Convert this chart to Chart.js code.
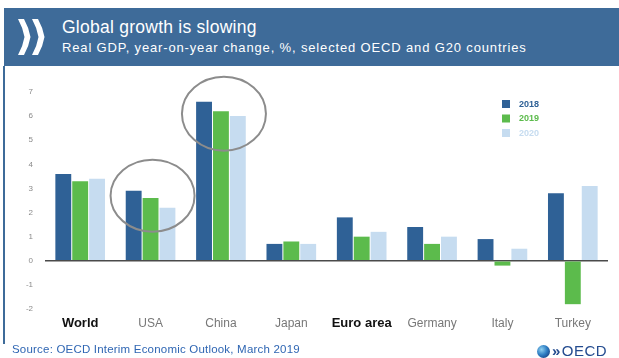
<!DOCTYPE html>
<html>
<head>
<meta charset="utf-8">
<script src="https://cdn.jsdelivr.net/npm/chart.js@4/dist/chart.umd.min.js"></script>
<style>
  html, body { margin: 0; padding: 0; background: #ffffff; }
  body { width: 619px; height: 358px; position: relative; overflow: hidden;
         font-family: "Liberation Sans", Arial, sans-serif; }
  #band { position: absolute; left: 4px; top: 8px; width: 615px; height: 58px; background: #3e6b99; }
  #band svg { position: absolute; left: 13px; top: 11px; }
  #title { position: absolute; left: 62px; top: 17px; color: #ffffff; font-size: 17.5px; letter-spacing: 0.25px; white-space: nowrap; }
  #subtitle { position: absolute; left: 62px; top: 40px; color: #ffffff; font-size: 13px; letter-spacing: 0.85px; white-space: nowrap; }
  #rule { position: absolute; left: 3px; top: 66px; width: 2px; height: 278px; background: #3e6b99; }
  #plot { position: absolute; left: 0; top: 0; }
  #source { position: absolute; left: 12px; top: 343px; color: #2f66b3; font-size: 11.5px; letter-spacing: 0.2px; white-space: nowrap; }
  #logo { position: absolute; left: 537px; top: 344px; height: 14px; white-space: nowrap; }
  #globe { position: absolute; left: 0; top: 1px; width: 13px; height: 13px; border-radius: 50%;
           background: radial-gradient(circle at 35% 35%, #8fd0f0 0%, #2f7fc4 45%, #1d4f93 75%, #4aa84a 100%); }
  #logotext { position: absolute; left: 15px; top: -2px; color: #234b8f; font-size: 15px; letter-spacing: 0.5px; }
  #logotext b { font-weight: bold; margin-right: 1px; }
</style>
</head>
<body>
<div id="band">
  <svg width="32" height="36" viewBox="0 0 32 36">
    <path d="M1 0 L7 0 Q12 9 13.5 18 Q12 27 7 36 L1 36 Q6 27 7.5 18 Q6 9 1 0 Z" fill="#ffffff"/>
    <path d="M15 0 L21 0 Q26 9 27.5 18 Q26 27 21 36 L15 36 Q20 27 21.5 18 Q20 9 15 0 Z" fill="#ffffff"/>
  </svg>
</div>
<div id="title">Global growth is slowing</div>
<div id="subtitle">Real GDP, year-on-year change, %, selected OECD and G20 countries</div>
<div id="rule"></div>
<canvas id="plot" width="619" height="358"></canvas>
<div id="source">Source: OECD Interim Economic Outlook, March 2019</div>
<div id="logo"><div id="globe"></div><div id="logotext"><b>»</b>OECD</div></div>

<script>
// Real GDP growth, % year-on-year
const categories = ['World', 'USA', 'China', 'Japan', 'Euro area', 'Germany', 'Italy', 'Turkey'];
const years = ['2018', '2019', '2020'];
const gdp2018 = [3.6, 2.9, 6.6, 0.7, 1.8, 1.4, 0.9, 2.8];
const gdp2019 = [3.3, 2.6, 6.2, 0.8, 1.0, 0.7, -0.2, -1.8];
const gdp2020 = [3.4, 2.2, 6.0, 0.7, 1.2, 1.0, 0.5, 3.1];
const yTicks = [7, 6, 5, 4, 3, 2, 1, 0, -1, -2];
const aggregates = ['World', 'Euro area'];   // shown in bold black on the axis

const seriesColors = ['#2f6196', '#5cbb4c', '#c6dcf0'];

// Grey rings drawn around selected country groups
const rings = [
  { category: 'USA',   value: 2.7, dx: 2, rx: 42, ry: 36 },
  { category: 'China', value: 6.1, dx: 3, rx: 42, ry: 37 }
];

const ringPlugin = {
  id: 'rings',
  afterDatasetsDraw(chart) {
    const { ctx, scales: { x, y } } = chart;
    ctx.save();
    ctx.strokeStyle = '#8c8c8c';
    ctx.lineWidth = 2;
    rings.forEach(r => {
      const cx = x.getPixelForValue(categories.indexOf(r.category)) + r.dx;
      const cy = y.getPixelForValue(r.value);
      ctx.beginPath();
      ctx.ellipse(cx, cy, r.rx, r.ry, 0, 0, Math.PI * 2);
      ctx.stroke();
    });
    ctx.restore();
  }
};

// Compact legend at the upper right of the plot
const keyPlugin = {
  id: 'key',
  afterDraw(chart) {
    const { ctx } = chart;
    ctx.save();
    ctx.font = 'bold 9px "Liberation Sans", Arial, sans-serif';
    ctx.textBaseline = 'middle';
    chart.data.datasets.forEach((ds, i) => {
      const top = 100 + i * 14.5;
      ctx.fillStyle = ds.backgroundColor;
      ctx.fillRect(502, top, 8, 8);
      ctx.fillText(ds.label, 519, top + 4.5);
    });
    ctx.restore();
  }
};

new Chart(document.getElementById('plot'), {
  type: 'bar',
  data: {
    labels: categories,
    datasets: [
      { label: years[0], data: gdp2018, backgroundColor: seriesColors[0] },
      { label: years[1], data: gdp2019, backgroundColor: seriesColors[1] },
      { label: years[2], data: gdp2020, backgroundColor: seriesColors[2] }
    ]
  },
  options: {
    responsive: false,
    animation: false,
    events: [],
    layout: { padding: { left: 0, right: 11, top: 92, bottom: 23 } },
    datasets: { bar: { categoryPercentage: 0.72, barPercentage: 0.94 } },
    plugins: { legend: { display: false }, tooltip: { enabled: false } },
    scales: {
      x: {
        grid: { display: false, drawTicks: false },
        border: { display: false },
        afterFit: s => { s.height = 26; },
        ticks: {
          autoSkip: false,
          maxRotation: 0,
          padding: 7,
          color: ctx => aggregates.includes(categories[ctx.index]) ? '#111111' : '#777777',
          font: ctx => aggregates.includes(categories[ctx.index])
            ? { family: '"Liberation Sans", Arial, sans-serif', size: 13, weight: 'bold' }
            : { family: '"Liberation Sans", Arial, sans-serif', size: 12, weight: 'normal' }
        }
      },
      y: {
        min: -2,
        max: 7,
        afterBuildTicks: s => { s.ticks = yTicks.map(v => ({ value: v })); },
        afterFit: s => { s.width = 45; },
        grid: {
          drawTicks: false,
          color: ctx => ctx.tick && ctx.tick.value === 0 ? '#4a4a4a' : 'rgba(0,0,0,0)',
          lineWidth: 1.5
        },
        border: { display: false },
        ticks: {
          padding: 12,
          color: '#8a8a8a',
          font: { family: '"Liberation Sans", Arial, sans-serif', size: 8 }
        }
      }
    }
  },
  plugins: [ringPlugin, keyPlugin]
});
</script>
</body>
</html>
